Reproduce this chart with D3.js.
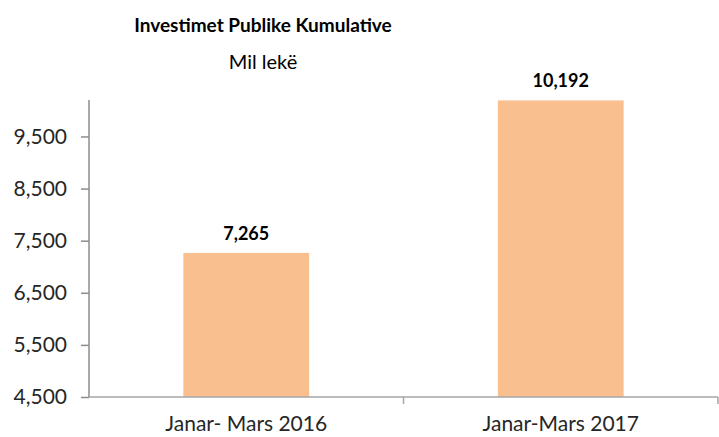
<!DOCTYPE html>
<html>
<head>
<meta charset="utf-8">
<script src="https://cdn.jsdelivr.net/npm/d3@7"></script>
<style>
  body { margin: 0; background: #fff; }
  text { font-family: Lato, "Open Sans", sans-serif; fill: #262626; }
</style>
</head>
<body>
<div id="chart"></div>
<script>
const categories = ["Janar- Mars 2016", "Janar-Mars 2017"];
const values = [7265, 10192];
const yTicks = [4500, 5500, 6500, 7500, 8500, 9500];
const title = "Investimet Publike Kumulative";
const subtitle = "Mil lekë";

const width = 719;
const height = 437;
const plot = { left: 89, right: 718, top: 100, bottom: 397 };

const svg = d3.select("#chart")
  .append("svg")
  .attr("width", width)
  .attr("height", height);

const x = d3.scaleBand()
  .domain(categories)
  .range([plot.left, plot.right])
  .paddingInner(0.6)
  .paddingOuter(0.3);

const y = d3.scaleLinear()
  .domain([4500, 10200])
  .range([plot.bottom, plot.top]);

// titles
svg.append("text")
  .attr("x", 263)
  .attr("y", 32)
  .attr("text-anchor", "middle")
  .style("font-weight", "bold")
  .style("font-size", "19px")
  .style("fill", "#000")
  .text(title);

svg.append("text")
  .attr("x", 263)
  .attr("y", 69)
  .attr("text-anchor", "middle")
  .style("font-size", "20px")
  .style("fill", "#000")
  .text(subtitle);

// bars
svg.append("g")
  .selectAll("rect")
  .data(values)
  .enter()
  .append("rect")
  .attr("x", (d, i) => x(categories[i]))
  .attr("y", d => y(d))
  .attr("width", x.bandwidth())
  .attr("height", d => y(4500) - y(d))
  .attr("fill", "#f9bf8f");

// value labels
svg.append("g")
  .selectAll("text")
  .data(values)
  .enter()
  .append("text")
  .attr("x", (d, i) => x(categories[i]) + x.bandwidth() / 2)
  .attr("y", d => y(d) - 13)
  .attr("text-anchor", "middle")
  .style("font-weight", "bold")
  .style("font-size", "18px")
  .style("fill", "#000")
  .text(d => d3.format(",")(d));

// y axis
const yAxis = svg.append("g")
  .attr("transform", "translate(" + plot.left + ",0)")
  .call(d3.axisLeft(y).tickValues(yTicks).tickFormat(d3.format(",")).tickSize(8).tickSizeOuter(0));
yAxis.select(".domain").remove();
yAxis.append("line")
  .attr("y1", plot.top)
  .attr("y2", plot.bottom)
  .attr("stroke", "#8c8c8c")
  .attr("stroke-width", 1.5);
yAxis.selectAll(".tick line").attr("stroke", "#8c8c8c").attr("stroke-width", 1.5);
yAxis.selectAll(".tick text")
  .attr("x", -22)
  .style("font-size", "21px")
  .style("fill", "#262626");

// x axis
const xAxis = svg.append("g").attr("class", "x-axis");
xAxis.append("line")
  .attr("x1", plot.left)
  .attr("x2", plot.right)
  .attr("y1", plot.bottom)
  .attr("y2", plot.bottom)
  .attr("stroke", "#a6a6a6")
  .attr("stroke-width", 1.5);

const bounds = categories.map(c => x(c) - x.step() * x.paddingInner() / 2).slice(1).concat([plot.right]);
xAxis.selectAll("line.cat-tick")
  .data(bounds)
  .enter()
  .append("line")
  .attr("class", "cat-tick")
  .attr("x1", d => d)
  .attr("x2", d => d)
  .attr("y1", plot.bottom)
  .attr("y2", plot.bottom + 7)
  .attr("stroke", "#a6a6a6")
  .attr("stroke-width", 1.5);

xAxis.selectAll("text")
  .data(categories)
  .enter()
  .append("text")
  .attr("x", d => x(d) + x.bandwidth() / 2)
  .attr("y", 431)
  .attr("text-anchor", "middle")
  .style("font-size", "21px")
  .text(d => d);
</script>
</body>
</html>
